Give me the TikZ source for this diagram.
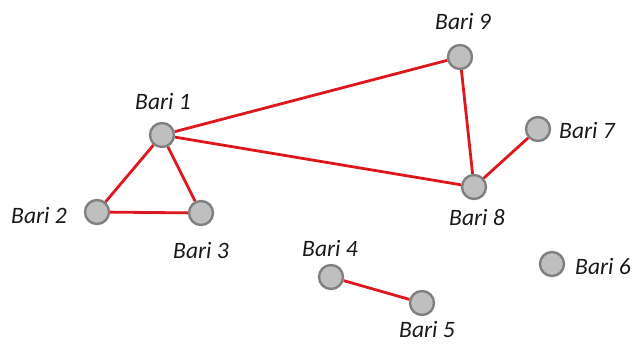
\documentclass[tikz,border=0pt]{standalone}
\usepackage{fontspec}
\setmainfont{Carlito}
\begin{document}
\begin{tikzpicture}[x=1pt,y=-1pt,
  vtx/.style={circle,draw=black!50,fill=black!25,line width=2.4pt,minimum size=24pt,inner sep=0pt},
  lbl/.style={font=\fontsize{23.5}{27}\selectfont\itshape,text=black!90,inner sep=0pt},
  link/.style={draw={rgb,255:red,222;green,22;blue,30},line width=2.8pt}]
\useasboundingbox (0,0) rectangle (638,347);
% vertices
\node[vtx] (b1) at (162,135) {};
\node[vtx] (b2) at (97,212) {};
\node[vtx] (b3) at (201,213) {};
\node[vtx] (b4) at (331,277) {};
\node[vtx] (b5) at (422,303) {};
\node[vtx] (b6) at (552,264) {};
\node[vtx] (b7) at (538,129) {};
\node[vtx] (b8) at (474,187) {};
\node[vtx] (b9) at (460,57) {};
% labels
\node[lbl] (l1) at (163,101) {Bari 1};
\node[lbl] (l2) at (39,215) {Bari 2};
\node[lbl] (l3) at (201,250) {Bari 3};
\node[lbl] (l4) at (330,248) {Bari 4};
\node[lbl] (l5) at (427,329) {Bari 5};
\node[lbl] (l6) at (603,267) {Bari 6};
\node[lbl] (l7) at (587,130) {Bari 7};
\node[lbl] (l8) at (477,218) {Bari 8};
\node[lbl] (l9) at (463,21) {Bari 9};
% links
\draw[link] (b1) -- (b9);
\draw[link] (b1) -- (b8);
\draw[link] (b1) -- (b2);
\draw[link] (b1) -- (b3);
\draw[link] (b2) -- (b3);
\draw[link] (b9) -- (b8);
\draw[link] (b8) -- (b7);
\draw[link] (b4) -- (b5);
\end{tikzpicture}
\end{document}
